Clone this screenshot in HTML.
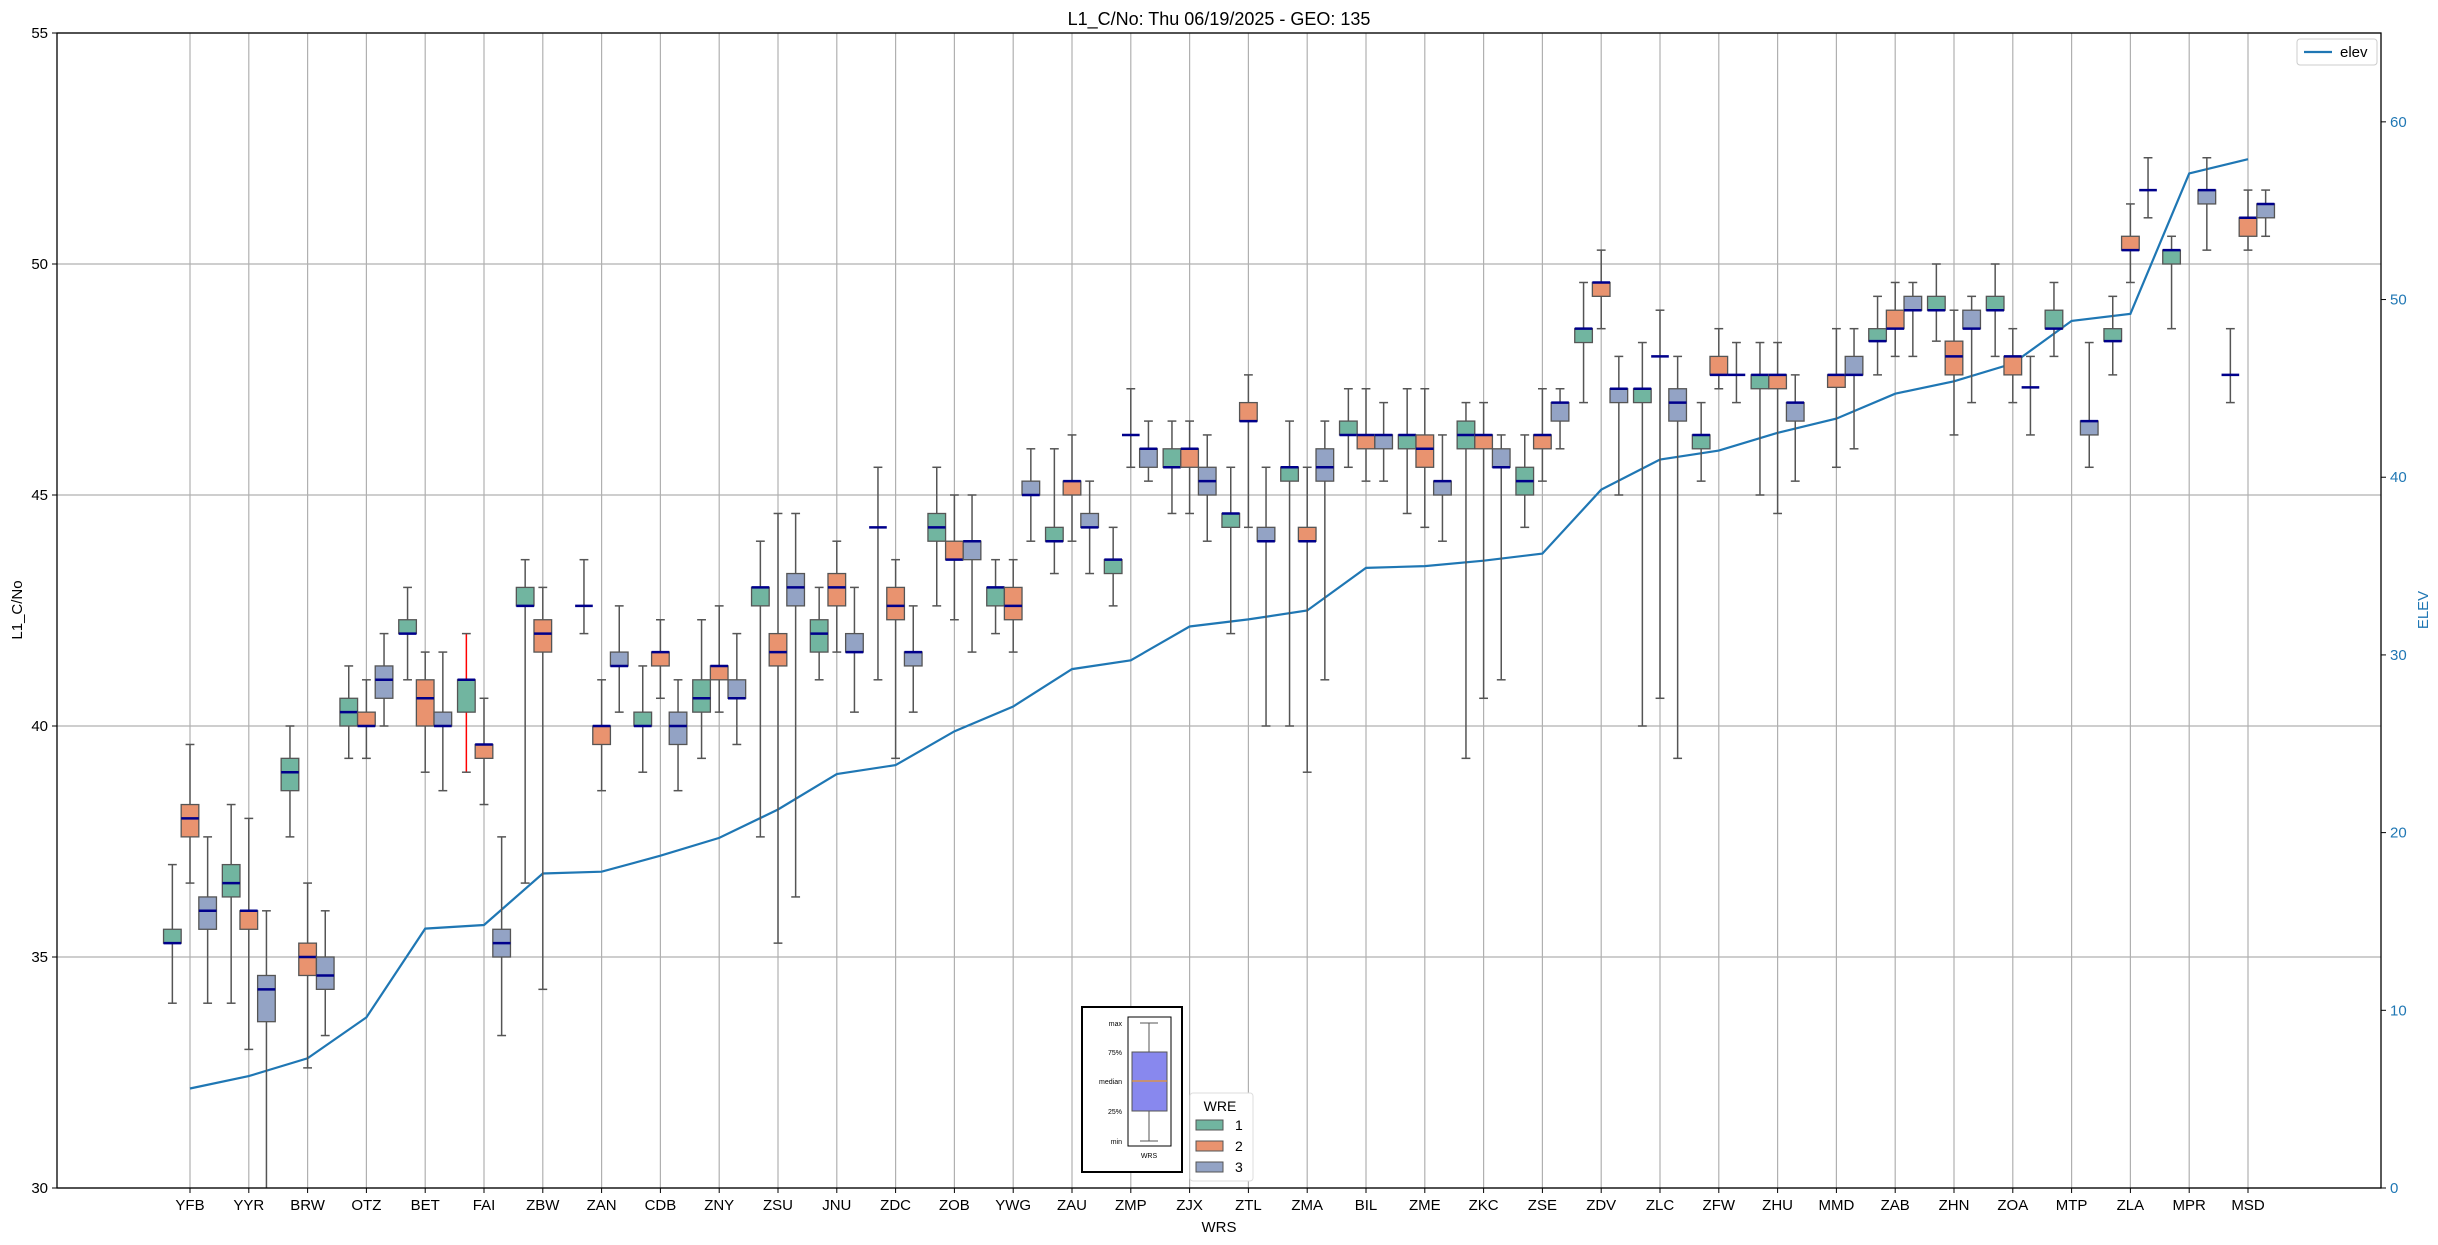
<!DOCTYPE html>
<html><head><meta charset="utf-8"><style>
html,body{margin:0;padding:0;background:#fff;}
svg text{font-family:"Liberation Sans","DejaVu Sans",sans-serif;}
</style></head><body>
<svg id="chart" width="2438" height="1240" viewBox="0 0 2438 1240" xmlns="http://www.w3.org/2000/svg">
<rect width="2438" height="1240" fill="#fff"/>
<defs><clipPath id="pc"><rect x="57" y="33" width="2324" height="1155"/></clipPath></defs>
<text x="1219" y="25" font-size="18" text-anchor="middle">L1_C/No: Thu 06/19/2025 - GEO: 135</text>
<g id="grid"></g>
<g id="elev" clip-path="url(#pc)"></g>
<g id="boxes" clip-path="url(#pc)"></g>
<g id="axes"></g>
<rect x="57" y="33" width="2324" height="1155" fill="none" stroke="#000" stroke-width="1.3"/>
<text transform="translate(22,610) rotate(-90)" font-size="15" text-anchor="middle">L1_C/No</text>
<text transform="translate(2428,610) rotate(-90)" font-size="15" fill="#1f77b4" text-anchor="middle">ELEV</text>
<text x="1219" y="1232" font-size="15" text-anchor="middle">WRS</text>
<g>
<rect x="2297" y="39" width="80" height="26" fill="#fff" stroke="#ccc" rx="3"/>
<line x1="2304" y1="52" x2="2332" y2="52" stroke="#1f77b4" stroke-width="2.2"/>
<text x="2340" y="57" font-size="15">elev</text>
</g>
<g>
<rect x="1082" y="1007" width="100" height="165" fill="#fff" stroke="#000" stroke-width="2"/>
<rect x="1128" y="1017" width="43" height="129" fill="#fff" stroke="#000" stroke-width="1"/>
<line x1="1149" y1="1023" x2="1149" y2="1141" stroke="#555" stroke-width="1"/>
<line x1="1140" y1="1023" x2="1158" y2="1023" stroke="#555"/>
<line x1="1140" y1="1141" x2="1158" y2="1141" stroke="#555"/>
<rect x="1132" y="1052" width="35" height="59" fill="#8888ee" stroke="#555"/>
<line x1="1132" y1="1081" x2="1167" y2="1081" stroke="#f90" stroke-width="1"/>
<g font-size="7" text-anchor="end"><text x="1122" y="1026">max</text><text x="1122" y="1055">75%</text><text x="1122" y="1084">median</text><text x="1122" y="1114">25%</text><text x="1122" y="1144">min</text></g>
<text x="1149" y="1158" font-size="7" text-anchor="middle">WRS</text>
</g>
<g>
<rect x="1190" y="1093" width="63" height="88" fill="#fff" stroke="#ddd" rx="3"/>
<text x="1220" y="1111" font-size="14" text-anchor="middle">WRE</text>
<rect x="1196" y="1120" width="27" height="10" fill="#71b5a0" stroke="#555"/><text x="1235" y="1130" font-size="14">1</text>
<rect x="1196" y="1141" width="27" height="10" fill="#e9936f" stroke="#555"/><text x="1235" y="1151" font-size="14">2</text>
<rect x="1196" y="1162" width="27" height="10" fill="#93a3c5" stroke="#555"/><text x="1235" y="1172" font-size="14">3</text>
</g>
</svg>
<script>
const stations=["YFB","YYR","BRW","OTZ","BET","FAI","ZBW","ZAN","CDB","ZNY","ZSU","JNU","ZDC","ZOB","YWG","ZAU","ZMP","ZJX","ZTL","ZMA","BIL","ZME","ZKC","ZSE","ZDV","ZLC","ZFW","ZHU","MMD","ZAB","ZHN","ZOA","MTP","ZLA","MPR","MSD"];
const elev=[5.6,6.3,7.3,9.6,14.6,14.8,17.7,17.8,18.7,19.7,21.3,23.3,23.8,25.7,27.1,29.2,29.7,31.6,32.0,32.5,34.9,35.0,35.3,35.7,39.3,41.0,41.5,42.5,43.3,44.7,45.4,46.4,48.8,49.2,57.1,57.9];
const w1Min=[34.0,34.0,37.6,39.3,41.0,39.0,36.6,42.0,39.0,39.3,37.6,41.0,41.0,42.6,42.0,43.3,42.6,44.6,42.0,40.0,45.6,44.6,39.3,44.3,47.0,40.0,45.3,45.0,null,47.6,48.33,48.0,48.0,47.6,48.6,47.0];
const w1Q1=[35.3,36.3,38.6,40.0,42.0,40.3,42.6,42.6,40.0,40.3,42.6,41.6,44.3,44.0,42.6,44.0,43.3,45.6,44.3,45.3,46.3,46.0,46.0,45.0,48.3,47.0,46.0,47.3,null,48.33,49.0,49.0,48.6,48.33,50.0,47.6];
const w1Med=[35.3,36.6,39.0,40.3,42.0,41.0,42.6,42.6,40.0,40.6,43.0,42.0,44.3,44.3,43.0,44.0,43.6,45.6,44.6,45.6,46.3,46.3,46.3,45.3,48.6,47.3,46.3,47.6,null,48.33,49.0,49.0,48.6,48.33,50.3,47.6];
const w1Q3=[35.6,37.0,39.3,40.6,42.3,41.0,43.0,42.6,40.3,41.0,43.0,42.3,44.3,44.6,43.0,44.3,43.6,46.0,44.6,45.6,46.6,46.3,46.6,45.6,48.6,47.3,46.3,47.6,null,48.6,49.3,49.3,49.0,48.6,50.3,47.6];
const w1Max=[37.0,38.3,40.0,41.3,43.0,42.0,43.6,43.6,41.3,42.3,44.0,43.0,45.6,45.6,43.6,46.0,44.3,46.6,45.6,46.6,47.3,47.3,47.0,46.3,49.6,48.3,47.0,48.3,null,49.3,50.0,50.0,49.6,49.3,50.6,48.6];
const w2Min=[36.6,33.0,32.6,39.3,39.0,38.3,34.3,38.6,40.6,40.3,35.3,41.6,39.3,42.3,41.6,44.0,45.6,44.6,44.3,39.0,45.3,44.3,40.6,45.3,48.6,40.6,47.3,44.6,45.6,48.0,46.3,47.0,null,49.6,null,50.3];
const w2Q1=[37.6,35.6,34.6,40.0,40.0,39.3,41.6,39.6,41.3,41.0,41.3,42.6,42.3,43.6,42.3,45.0,46.3,45.6,46.6,44.0,46.0,45.6,46.0,46.0,49.3,48.0,47.6,47.3,47.33,48.6,47.6,47.6,null,50.3,null,50.6];
const w2Med=[38.0,36.0,35.0,40.0,40.6,39.6,42.0,40.0,41.6,41.3,41.6,43.0,42.6,43.6,42.6,45.3,46.3,46.0,46.6,44.0,46.3,46.0,46.3,46.3,49.6,48.0,47.6,47.6,47.6,48.6,48.0,48.0,null,50.3,null,51.0];
const w2Q3=[38.3,36.0,35.3,40.3,41.0,39.6,42.3,40.0,41.6,41.3,42.0,43.3,43.0,44.0,43.0,45.3,46.3,46.0,47.0,44.3,46.3,46.3,46.3,46.3,49.6,48.0,48.0,47.6,47.6,49.0,48.33,48.0,null,50.6,null,51.0];
const w2Max=[39.6,38.0,36.6,41.0,41.6,40.6,43.0,41.0,42.3,42.6,44.6,44.0,43.6,45.0,43.6,46.3,47.3,46.6,47.6,45.6,47.3,47.3,47.0,47.3,50.3,49.0,48.6,48.3,48.6,49.6,49.0,48.6,null,51.3,null,51.6];
const w3Min=[34.0,29.5,33.3,40.0,38.6,33.3,null,40.3,38.6,39.6,36.3,40.3,40.3,41.6,44.0,43.3,45.3,44.0,40.0,41.0,45.3,44.0,41.0,46.0,45.0,39.3,47.0,45.3,46.0,48.0,47.0,46.3,45.6,51.0,50.3,50.6];
const w3Q1=[35.6,33.6,34.3,40.6,40.0,35.0,null,41.3,39.6,40.6,42.6,41.6,41.3,43.6,45.0,44.3,45.6,45.0,44.0,45.3,46.0,45.0,45.6,46.6,47.0,46.6,47.6,46.6,47.6,49.0,48.6,47.33,46.3,51.6,51.3,51.0];
const w3Med=[36.0,34.3,34.6,41.0,40.0,35.3,null,41.3,40.0,40.6,43.0,41.6,41.6,44.0,45.0,44.3,46.0,45.3,44.0,45.6,46.3,45.3,45.6,47.0,47.3,47.0,47.6,47.0,47.6,49.0,48.6,47.33,46.6,51.6,51.6,51.3];
const w3Q3=[36.3,34.6,35.0,41.3,40.3,35.6,null,41.6,40.3,41.0,43.3,42.0,41.6,44.0,45.3,44.6,46.0,45.6,44.3,46.0,46.3,45.3,46.0,47.0,47.3,47.3,47.6,47.0,48.0,49.3,49.0,47.33,46.6,51.6,51.6,51.3];
const w3Max=[37.6,36.0,36.0,42.0,41.6,37.6,null,42.6,41.0,42.0,44.6,43.0,42.6,45.0,46.0,45.3,46.6,46.3,45.6,46.6,47.0,46.3,46.3,47.3,48.0,48.0,48.3,47.6,48.6,49.6,49.3,48.0,48.3,52.3,52.3,51.6];
const yTicks=[30,35,40,45,50,55];
const elevTicks=[0,10,20,30,40,50,60];

const NS='http://www.w3.org/2000/svg';
const L=57,R=2381,T=33,B=1188;
const x0=190,dx=(2248-190)/35;
function xs(i){return x0+i*dx;}
function ys(v){return B-(v-30)/25*(B-T);}
function ye(v){return B-v/65*(B-T);}
function mk(tag,attrs,parent){const e=document.createElementNS(NS,tag);for(const k in attrs)e.setAttribute(k,attrs[k]);parent.appendChild(e);return e;}
const grid=document.getElementById('grid'),axes=document.getElementById('axes'),bx=document.getElementById('boxes'),el=document.getElementById('elev');
yTicks.forEach(v=>{
  const y=ys(v);
  const g=mk('line',{x1:L,x2:R,y1:y,y2:y,stroke:'#b0b0b0','stroke-width':1.2},grid);
  
  
  mk('line',{x1:L-5,x2:L,y1:y,y2:y,stroke:'#000'},axes);
  const t=mk('text',{x:L-9,y:y+5,'font-size':15,'text-anchor':'end'},axes);
  t.textContent=v;
  
  
});
elevTicks.forEach(v=>{
  const y=ye(v);
  mk('line',{x1:R,x2:R+5,y1:y,y2:y,stroke:'#000'},axes);
  const t=mk('text',{x:R+9,y:y+5,'font-size':15,fill:'#1f77b4'},axes);
  t.textContent=v;
  
  
});
stations.forEach((s,i)=>{
  const x=xs(i);
  const g=mk('line',{x1:x,x2:x,y1:T,y2:B,stroke:'#b0b0b0','stroke-width':1.2},grid);
  
  
  mk('line',{x1:x,x2:x,y1:B,y2:B+5,stroke:'#000'},axes);
  const t=mk('text',{x:x,y:B+22,'font-size':15,'text-anchor':'middle'},axes);
  t.textContent=s;
  
  
});
const series=[
 {mn:w1Min,q1:w1Q1,md:w1Med,q3:w1Q3,mx:w1Max,fill:'#71b5a0',off:-1,name:'wre1'},
 {mn:w2Min,q1:w2Q1,md:w2Med,q3:w2Q3,mx:w2Max,fill:'#e9936f',off:0,name:'wre2'},
 {mn:w3Min,q1:w3Q1,md:w3Med,q3:w3Q3,mx:w3Max,fill:'#93a3c5',off:1,name:'wre3'}];
const bw=dx*0.3;
series.forEach(S=>{
  stations.forEach((st,i)=>{
    if(S.md[i]==null)return;
    const cx=xs(i)+S.off*bw;
    const g=mk('g',{},bx);
    
    
    const wc=(st==='FAI'&&S.off===-1)?'#ff0000':'#555';
    mk('line',{x1:cx,x2:cx,y1:ys(S.mx[i]),y2:ys(S.q3[i]),stroke:wc,'stroke-width':1.5},g);
    mk('line',{x1:cx,x2:cx,y1:ys(S.q1[i]),y2:ys(S.mn[i]),stroke:wc,'stroke-width':1.5},g);
    mk('line',{x1:cx-bw/4,x2:cx+bw/4,y1:ys(S.mx[i]),y2:ys(S.mx[i]),stroke:'#555','stroke-width':1.5},g);
    mk('line',{x1:cx-bw/4,x2:cx+bw/4,y1:ys(S.mn[i]),y2:ys(S.mn[i]),stroke:'#555','stroke-width':1.5},g);
    const h=ys(S.q1[i])-ys(S.q3[i]);
    if(h>0.5)mk('rect',{x:cx-bw/2,y:ys(S.q3[i]),width:bw,height:h,fill:S.fill,stroke:'#555','stroke-width':1.3},g);
    mk('line',{x1:cx-bw/2,x2:cx+bw/2,y1:ys(S.md[i]),y2:ys(S.md[i]),stroke:'#00008b','stroke-width':2.5},g);
  });
});
let d='';
elev.forEach((v,i)=>{d+=(i?'L':'M')+xs(i).toFixed(1)+','+ye(v).toFixed(1);});
const p=mk('path',{d:d,fill:'none',stroke:'#1f77b4','stroke-width':2.2},el);


</script>
</body></html>
